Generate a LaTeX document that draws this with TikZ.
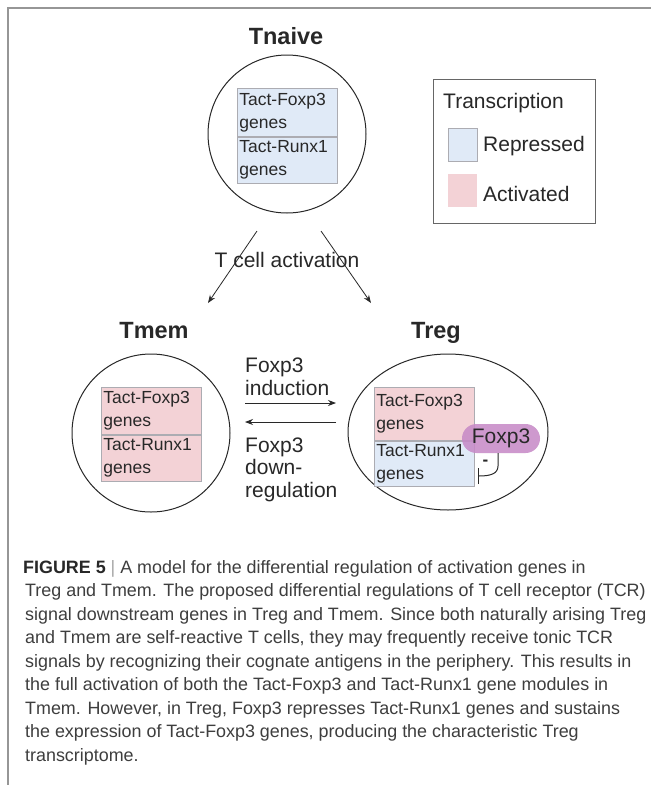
\documentclass[tikz,border=0pt]{standalone}
\usepackage{fontspec}
\setmainfont{Liberation Sans}
\usetikzlibrary{arrows.meta,shapes.geometric}

\definecolor{repblue}{RGB}{224,234,247}
\definecolor{actpink}{RGB}{243,210,214}
\definecolor{boxline}{RGB}{172,172,178}
\definecolor{fxpurple}{RGB}{198,136,198}
\definecolor{framegray}{RGB}{150,150,150}
\definecolor{captext}{RGB}{62,62,62}
\definecolor{inkgray}{RGB}{40,40,40}

\begin{document}
\begin{tikzpicture}[x=1pt,y=-1pt,
  cellname/.style={font=\fontsize{23.5}{28}\selectfont\bfseries, anchor=base, text=inkgray, inner sep=0pt},
  lbl/.style={font=\fontsize{21}{22.5}\selectfont, text=inkgray, inner sep=0pt},
  cellshape/.style={draw=inkgray, line width=1pt},
  genehalf/.style={rectangle, draw=boxline, line width=0.7pt, text width=96pt, inner xsep=2pt, inner ysep=0pt, align=left, font=\fontsize{17.5}{23}\selectfont, text=inkgray, anchor=north west},
  swatch/.style={rectangle, minimum width=29pt, minimum height=33pt, inner sep=0pt, anchor=north west},
  conn/.style={draw=inkgray, line width=0.8pt, -{Stealth[length=8pt,width=6pt]}},
  inhib/.style={draw=inkgray, line width=1pt, -{Bar[width=16pt,line width=1pt]}},
  captionline/.style={anchor=base west, inner sep=0pt, font=\fontsize{17.9}{23}\selectfont, text=captext}
]
\useasboundingbox (0,0) rectangle (651,785);
\fill[white] (0,0) rectangle (651,785);

% figure frame (top and left edges)
\draw[framegray, line width=2pt] (651,8) -- (8,8) -- (8,785);

% ---- naive cell ----
\node[cellname] (tnaiveT) at (286,44) {Tnaive};
\node[cellshape, circle, minimum size=158pt, inner sep=0pt] (naive) at (287,134) {};
\node[genehalf, fill=repblue, minimum height=48pt] (nfox) at (237,88) {Tact-Foxp3\\genes};
\node[genehalf, fill=repblue, minimum height=46pt] (nrun) at (nfox.south west) {Tact-Runx1\\genes};

% ---- legend ----
\node[rectangle, draw=gray!80!black, line width=0.8pt, minimum width=162pt, minimum height=144pt, anchor=north west, inner sep=0pt] (legend) at (433,79) {};
\node[lbl, anchor=base west] (legT) at (443,108) {Transcription};
\node[swatch, fill=repblue, draw=boxline, line width=0.7pt] (swrep) at (448,128) {};
\node[swatch, fill=actpink] (swact) at (448,174) {};
\node[lbl, anchor=base west] (legR) at (483,151) {Repressed};
\node[lbl, anchor=base west] (legA) at (483,201) {Activated};

% ---- activation arrows ----
\coordinate (actL0) at (257,231);
\coordinate (actL1) at (208,303);
\coordinate (actR0) at (321,231);
\coordinate (actR1) at (371,303);
\draw[conn] (actL0) -- (actL1);
\draw[conn] (actR0) -- (actR1);
\node[lbl, anchor=base] (actT) at (287,267) {T cell activation};

% ---- memory cell ----
\node[cellname] (tmemT) at (154,338) {Tmem};
\node[cellshape, circle, minimum size=158pt, inner sep=0pt] (mem) at (151,433) {};
\node[genehalf, fill=actpink, minimum height=47pt] (mfox) at (101,387) {Tact-Foxp3\\genes};
\node[genehalf, fill=actpink, minimum height=46pt] (mrun) at (mfox.south west) {Tact-Runx1\\genes};

% ---- regulatory cell ----
\node[cellname] (tregT) at (436,338) {Treg};
\node[cellshape, ellipse, minimum width=200pt, minimum height=156pt, inner sep=0pt] (reg) at (448,432) {};
\node[genehalf, fill=actpink, minimum height=53pt] (rfox) at (374,387) {Tact-Foxp3\\genes};
\node[genehalf, fill=repblue, minimum height=45pt] (rrun) at (rfox.south west) {Tact-Runx1\\genes};
\node[rectangle, rounded corners=14.5pt, fill=fxpurple, fill opacity=0.85, text opacity=1, minimum width=78pt, minimum height=29pt, inner sep=0pt, font=\fontsize{21}{22}\selectfont, text=inkgray] (fox) at (501,438.5) {Foxp3};
\coordinate (inhE) at (478,476);
\draw[inhib] (fox.south -| 498,0) -- (498,466) .. controls (498,474) and (490,476) .. (inhE);
\node[font=\fontsize{17}{18}\selectfont\bfseries, text=inkgray, inner sep=0pt] (minus) at (485.5,463) {-};

% ---- conversion between Tmem and Treg ----
\node[lbl, anchor=base west, align=left] (indT) at (245,372.5) {Foxp3};
\node[lbl, anchor=base west] (indT2) at (245,395) {induction};
\coordinate (ind0) at (245,403);
\coordinate (ind1) at (336,403);
\coordinate (dwn0) at (336,422);
\coordinate (dwn1) at (245,422);
\draw[conn] (ind0) -- (ind1);
\draw[conn] (dwn0) -- (dwn1);
\node[lbl, anchor=base west] (dwnT1) at (245,452) {Foxp3};
\node[lbl, anchor=base west] (dwnT2) at (245,474.5) {down-};
\node[lbl, anchor=base west] (dwnT3) at (245,497) {regulation};

% ---- caption ----
\node[captionline] (c1) at (23,573) {{\color{inkgray}\bfseries FIGURE 5} {\color{gray!70}|} A model for the differential regulation of activation genes in};
\node[captionline] (c2) at (25,596.5) {Treg and Tmem. The proposed differential regulations of T cell receptor (TCR)};
\node[captionline] (c3) at (25,620) {signal downstream genes in Treg and Tmem. Since both naturally arising Treg};
\node[captionline] (c4) at (25,643.5) {and Tmem are self-reactive T cells, they may frequently receive tonic TCR};
\node[captionline] (c5) at (25,667) {signals by recognizing their cognate antigens in the periphery. This results in};
\node[captionline] (c6) at (25,690.5) {the full activation of both the Tact-Foxp3 and Tact-Runx1 gene modules in};
\node[captionline] (c7) at (25,714) {Tmem. However, in Treg, Foxp3 represses Tact-Runx1 genes and sustains};
\node[captionline] (c8) at (25,737.5) {the expression of Tact-Foxp3 genes, producing the characteristic Treg};
\node[captionline] (c9) at (25,761) {transcriptome.};
\end{tikzpicture}
\end{document}
